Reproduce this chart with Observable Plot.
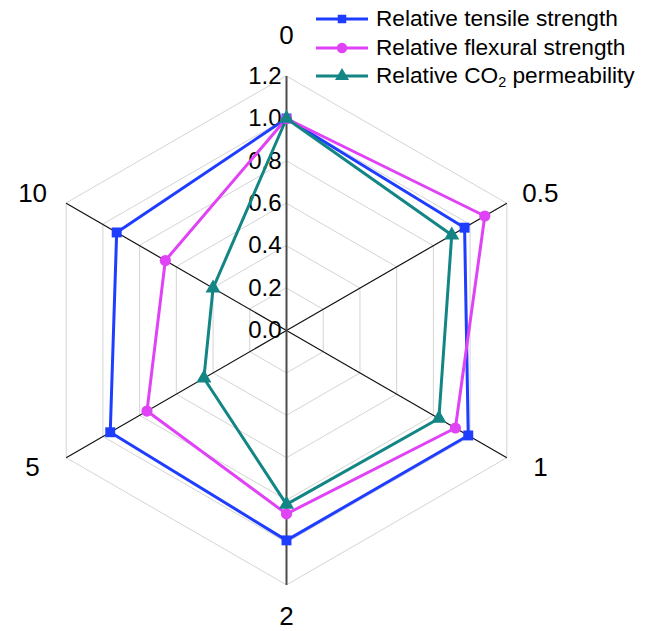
<!DOCTYPE html>
<html>
<head>
<meta charset="utf-8">
<script src="https://cdn.jsdelivr.net/npm/d3@7"></script>
<script src="https://cdn.jsdelivr.net/npm/@observablehq/plot@0.6"></script>
<style>
  html, body { margin: 0; padding: 0; background: #fff; }
  #wrap { position: relative; width: 650px; height: 631px; font-family: "Liberation Sans", Arial, sans-serif; }
  #legend { position: absolute; left: 314px; top: 5px; }
  .row { display: flex; align-items: center; height: 28.5px; white-space: nowrap; }
  .row svg { display: block; }
  .lab { display: inline-block; font-size: 22px; color: #000; margin-left: 6px; transform: scaleX(1.03); transform-origin: left center; }
  .lab sub { font-size: 14px; vertical-align: -4px; line-height: 0; }
</style>
</head>
<body>
<div id="wrap"><div id="chart"></div><div id="legend"></div></div>
<script>
// ---- data ----
const categories = ["0", "0.5", "1", "2", "5", "10"];
const tensile  = [1.00, 0.97, 0.99, 0.99, 0.96, 0.925];
const flexural = [1.00, 1.08, 0.92, 0.865, 0.76, 0.66];
const co2perm  = [1.00, 0.90, 0.83, 0.82, 0.45, 0.40];
const radialTicks = [0.0, 0.2, 0.4, 0.6, 0.8, 1.0, 1.2];
const seriesNames = ["Relative tensile strength", "Relative flexural strength", "Relative CO2 permeability"];
const seriesColors = ["#1f3dff", "#e042f5", "#138585"];
const seriesSymbols = ["square", "circle", "triangle"];

// ---- geometry helpers ----
const maxR = 1.2;
const n = categories.length;
const ang = i => Math.PI / 2 - i * 2 * Math.PI / n;
const px = (r, i) => r * Math.cos(ang(i));
const py = (r, i) => r * Math.sin(ang(i));
// label placement (layout only)
const labX = i => 1.383 * Math.cos(ang(i));
const labY = i => Math.sin(ang(i)) * (i === 0 ? 1.39 : i === 3 ? 1.35 : 1.29);

const seriesValues = [tensile, flexural, co2perm];
const points = [];
seriesValues.forEach((vals, s) => vals.forEach((v, i) => points.push({s, i, x: px(v, i), y: py(v, i)})));

const gridLevels = radialTicks.filter(t => t > 0);
const gridPts = [];
gridLevels.forEach(l => categories.forEach((c, i) => gridPts.push({l, x: px(l, i), y: py(l, i)})));

const spokes = categories.map((c, i) => ({i, x2: px(maxR, i), y2: py(maxR, i)}));

const unit = 212; // pixels per unit
const cx = 286, cy = 330, W = 650, H = 631;

const marks = [
  Plot.line(gridPts, {x: "x", y: "y", z: "l", curve: "linear-closed", stroke: "#cfcfcf", strokeWidth: 0.9}),
  Plot.link(spokes.filter(d => d.i % 3 !== 0), {x1: 0, y1: 0, x2: "x2", y2: "y2", stroke: "#111", strokeWidth: 1.2}),
  Plot.link(spokes.filter(d => d.i % 3 === 0), {x1: 0, y1: 0, x2: "x2", y2: "y2", stroke: "#4a4a4a", strokeWidth: 2}),
  Plot.text(radialTicks, {x: 0, y: d => d, text: d => d.toFixed(1), textAnchor: "end", dx: -5, fontSize: 24, fill: "#000"}),
  Plot.text(categories, {x: (d, i) => labX(i), y: (d, i) => labY(i), text: d => d, fontSize: 26, fill: "#000"})
];
seriesValues.forEach((vals, s) => {
  const pts = points.filter(p => p.s === s);
  marks.push(Plot.line(pts, {x: "x", y: "y", curve: "linear-closed", stroke: seriesColors[s], strokeWidth: 3}));
});
seriesValues.forEach((vals, s) => {
  const pts = points.filter(p => p.s === s);
  marks.push(Plot.dot(pts, {x: "x", y: "y", symbol: () => seriesSymbols[s], fill: seriesColors[s], stroke: "none", r: 5.6}));
});

const chart = Plot.plot({
  width: W, height: H, margin: 0,
  style: {fontFamily: "'Liberation Sans', Arial, sans-serif", background: "#fff"},
  x: {domain: [-cx / unit, (W - cx) / unit], axis: null},
  y: {domain: [-(H - cy) / unit, cy / unit], axis: null},
  symbol: {domain: seriesSymbols, range: seriesSymbols},
  marks
});
document.getElementById("chart").appendChild(chart);

// ---- legend ----
const legend = document.getElementById("legend");
const legendLabels = ["Relative tensile strength", "Relative flexural strength", "Relative CO<sub>2</sub> permeability"];
const symPath = (sym, r) => d3.symbol(sym === "square" ? d3.symbolSquare : sym === "circle" ? d3.symbolCircle : d3.symbolTriangle, Math.PI * r * r)();
legendLabels.forEach((lab, s) => {
  const row = document.createElement("div");
  row.className = "row";
  row.innerHTML = `<svg width="56" height="28"><line x1="2" x2="54" y1="14" y2="14" stroke="${seriesColors[s]}" stroke-width="3"/><path transform="translate(28,14)" d="${symPath(seriesSymbols[s], s === 0 ? 4.8 : 5.2)}" fill="${seriesColors[s]}"/></svg><span class="lab">${lab}</span>`;
  legend.appendChild(row);
});
</script>
</body>
</html>
